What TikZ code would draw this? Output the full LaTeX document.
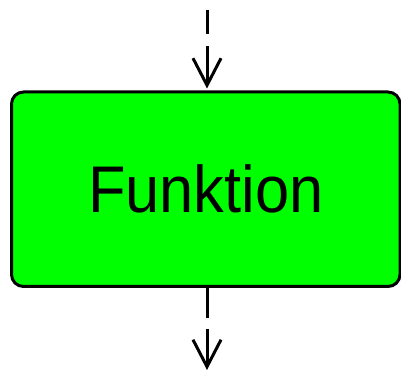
\documentclass[tikz,border=0pt]{standalone}
\usepackage{fontspec}
\setmainfont{Liberation Sans}
\usepackage{graphicx}
\usetikzlibrary{arrows.meta,positioning}
\definecolor{fgreen}{RGB}{0,255,0}
\tikzset{
  funcbox/.style={draw=black, fill=fgreen, line width=3pt, rounded corners=12pt,
    minimum width=388.5pt, minimum height=194.5pt, inner sep=0pt},
  flow/.style={line width=3pt, -{Straight Barb[length=27pt,width=28pt]}}
}

\begin{document}
\begin{tikzpicture}[x=1pt, y=1pt]
    \useasboundingbox (0,0) rectangle (401,371);
    \node[funcbox] (fn) at (205.75,181.75)
        {\fontsize{66}{66}\selectfont\scalebox{0.93}[1]{Funktion}};
    \coordinate (in) at (207,361);
    \coordinate (out) at (207,1);
    \draw[flow, dash pattern=on 24pt off 12pt on 90pt, shorten >=2pt] (in) -- (in |- fn.north);
    \draw[flow, dash pattern=on 30pt off 11pt on 90pt] (fn.south -| out) -- (out);
\end{tikzpicture}
\end{document}
